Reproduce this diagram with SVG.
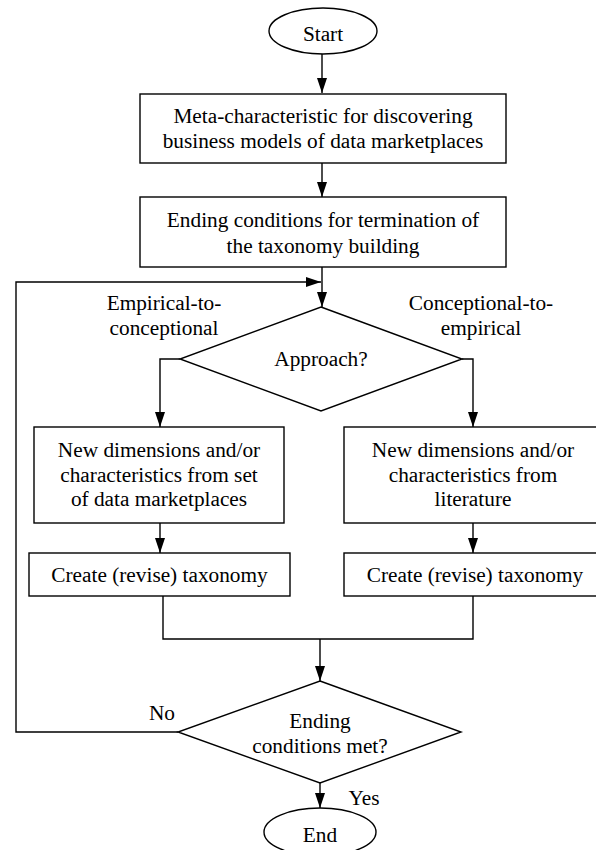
<svg xmlns="http://www.w3.org/2000/svg" width="596" height="850" viewBox="0 0 596 850">
<style>
.s{fill:#fff;stroke:#000;stroke-width:1.4}
.c{fill:none;stroke:#000;stroke-width:1.4}
text{font-family:"Liberation Serif","Times New Roman",serif;font-size:21.3px;fill:#000;text-anchor:middle}
</style>
<defs>
<marker id="ah" viewBox="0 0 15 10" refX="15" refY="5" markerWidth="15" markerHeight="10" markerUnits="userSpaceOnUse" orient="auto">
<path d="M0,0 L15,5 L0,10 Z" fill="#000"/>
</marker>
</defs>
<rect width="596" height="850" fill="#fff"/>
<g id="connectors">
<path class="c" d="M322,54 V93" marker-end="url(#ah)"/>
<path class="c" d="M322,163 V197" marker-end="url(#ah)"/>
<path class="c" d="M322,267 V307" marker-end="url(#ah)"/>
<path class="c" d="M178,732 H16 V282 H321" marker-end="url(#ah)"/>
<path class="c" d="M180,359 H160 V427" marker-end="url(#ah)"/>
<path class="c" d="M462,359 H473 V427" marker-end="url(#ah)"/>
<path class="c" d="M160,523 V553" marker-end="url(#ah)"/>
<path class="c" d="M473,523 V553" marker-end="url(#ah)"/>
<path class="c" d="M163,596 V639 H473 V596"/>
<path class="c" d="M320,639 V681" marker-end="url(#ah)"/>
<path class="c" d="M320,783 V808" marker-end="url(#ah)"/>
</g>
<g id="start">
<ellipse class="s" cx="323" cy="31" rx="54" ry="23"/>
<text x="323" y="41">Start</text>
</g>
<g id="meta">
<rect class="s" x="140" y="94" width="366" height="69"/>
<text x="323" y="123">Meta-characteristic for discovering</text>
<text x="323" y="148">business models of data marketplaces</text>
</g>
<g id="ending-conditions">
<rect class="s" x="140" y="197" width="366" height="70"/>
<text x="323" y="227">Ending conditions for termination of</text>
<text x="323" y="253">the taxonomy building</text>
</g>
<g id="approach">
<path class="s" d="M321,307 L462,359 L321,411 L180,359 Z"/>
<text x="321" y="366">Approach?</text>
</g>
<g id="label-e2c">
<text x="164" y="310">Empirical-to-</text>
<text x="164" y="335">conceptional</text>
</g>
<g id="label-c2e">
<text x="481" y="310">Conceptional-to-</text>
<text x="481" y="335">empirical</text>
</g>
<g id="new-left">
<rect class="s" x="34" y="427" width="250" height="96"/>
<text x="159" y="457">New dimensions and/or</text>
<text x="159" y="482">characteristics from set</text>
<text x="159" y="506">of data marketplaces</text>
</g>
<g id="new-right">
<rect class="s" x="344" y="427" width="258" height="96"/>
<text x="473" y="457">New dimensions and/or</text>
<text x="473" y="482">characteristics from</text>
<text x="473" y="506">literature</text>
</g>
<g id="create-left">
<rect class="s" x="29" y="553" width="261" height="43"/>
<text x="159.5" y="582">Create (revise) taxonomy</text>
</g>
<g id="create-right">
<rect class="s" x="344" y="553" width="262" height="43"/>
<text x="475" y="582">Create (revise) taxonomy</text>
</g>
<g id="ending-met">
<path class="s" d="M320,681 L461,732 L320,783 L178,732 Z"/>
<text x="320" y="728">Ending</text>
<text x="320" y="753">conditions met?</text>
</g>
<g id="label-no"><text x="162" y="720">No</text></g>
<g id="label-yes"><text x="364" y="805">Yes</text></g>
<g id="end">
<ellipse class="s" cx="320" cy="832" rx="56" ry="24"/>
<text x="320" y="842">End</text>
</g>
</svg>
